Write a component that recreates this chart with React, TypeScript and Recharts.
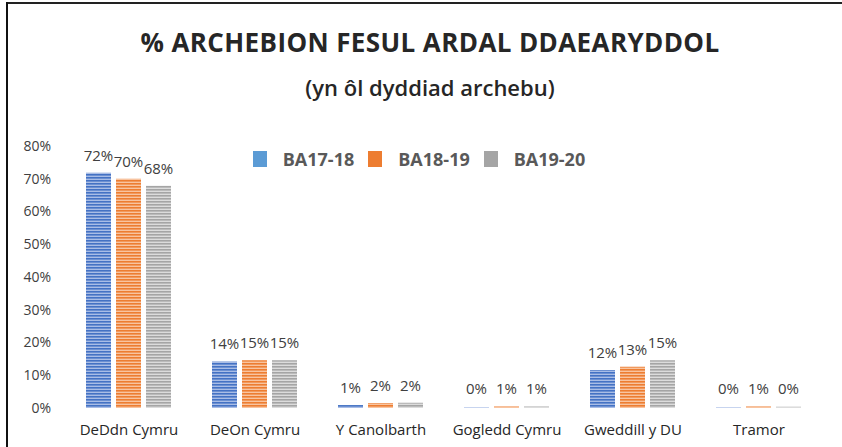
import React from "react"
import { Bar, BarChart, XAxis, YAxis, LabelList } from "recharts"

const categories = ["DeDdn Cymru", "DeOn Cymru", "Y Canolbarth", "Gogledd Cymru", "Gweddill y DU", "Tramor"]
const ba1718 = [71.8, 14.2, 0.9, 0.2, 11.6, 0.2]
const ba1819 = [70.0, 14.6, 1.5, 0.5, 12.6, 0.5]
const ba1920 = [67.9, 14.6, 1.6, 0.5, 14.6, 0.4]
const yTicks = [0, 10, 20, 30, 40, 50, 60, 70, 80]

const series = [
  { key: "ba1718", name: "BA17-18", dark: "#4472c4", light: "#a9bde6", legend: "#5b9bd5" },
  { key: "ba1819", name: "BA18-19", dark: "#ed7d31", light: "#f8c4a0", legend: "#ed7d31" },
  { key: "ba1920", name: "BA19-20", dark: "#a5a5a5", light: "#dcdcdc", legend: "#a5a5a5" },
]

const data = categories.map((name, i) => ({
  name,
  ba1718: ba1718[i],
  ba1819: ba1819[i],
  ba1920: ba1920[i],
}))

const font = "'Open Sans', sans-serif"

const renderLabel = (props: any) => {
  const { x, y, width, height, value } = props
  const base = y + height
  const ly = Math.min(y - 12, base - 14)
  return (
    <text x={x + width / 2} y={ly} textAnchor="middle" fontSize={15} fill="#404040" fontFamily={font}>
      {`${Math.round(value)}%`}
    </text>
  )
}

export default function App() {
  return (
    <div style={{ position: "absolute", left: 0, top: 0, width: 842, height: 447, background: "#fff", fontFamily: font }}>
      <div style={{ position: "absolute", left: 6, top: 2, width: 836, height: 2, background: "#222" }} />
      <div style={{ position: "absolute", left: 6, top: 2, width: 2, height: 445, background: "#111" }} />
      <div style={{ position: "absolute", left: 0, width: 860, top: 24, textAlign: "center", fontSize: 26, fontWeight: 700, color: "#262626", letterSpacing: 0.4 }}>
        % ARCHEBION FESUL ARDAL DDAEARYDDOL
      </div>
      <div style={{ position: "absolute", left: 0, width: 860, top: 72, textAlign: "center", fontSize: 22, fontWeight: 600, color: "#262626" }}>
        (yn ôl dyddiad archebu)
      </div>
      <div style={{ position: "absolute", left: -2, width: 842, top: 147, display: "flex", justifyContent: "center", gap: 14, fontSize: 18, fontWeight: 700, color: "#595959" }}>
        {series.map((s) => (
          <div key={s.key} style={{ display: "flex", alignItems: "center", gap: 16 }}>
            <span style={{ width: 14, height: 16, background: s.legend, display: "inline-block" }} />
            <span>{s.name}</span>
          </div>
        ))}
      </div>
      <BarChart
        width={842}
        height={447}
        data={data}
        margin={{ top: 146, right: 20, left: 10, bottom: 9 }}
        barCategoryGap={20}
        barGap={5}
      >
        <defs>
          {series.map((s) => (
            <pattern key={s.key} id={`stripe-${s.key}`} patternUnits="userSpaceOnUse" width={4} height={3}>
              <rect width={4} height={3} fill={s.light} />
              <rect width={4} height={1.6} fill={s.dark} />
            </pattern>
          ))}
        </defs>
        <XAxis
          dataKey="name"
          axisLine={false}
          tickLine={false}
          tickMargin={10}
          height={30}
          interval={0}
          tick={{ fontSize: 15, fill: "#262626", fontFamily: font }}
        />
        <YAxis
          domain={[0, 80]}
          ticks={yTicks}
          axisLine={false}
          tickLine={false}
          width={56}
          tickMargin={9}
          tickFormatter={(v) => `${v}%`}
          tick={{ fontSize: 14, fill: "#404040", fontFamily: font }}
        />
        {series.map((s) => (
          <Bar key={s.key} dataKey={s.key} name={s.name} fill={`url(#stripe-${s.key})`} isAnimationActive={false}>
            <LabelList dataKey={s.key} content={renderLabel} />
          </Bar>
        ))}
      </BarChart>
    </div>
  )
}
